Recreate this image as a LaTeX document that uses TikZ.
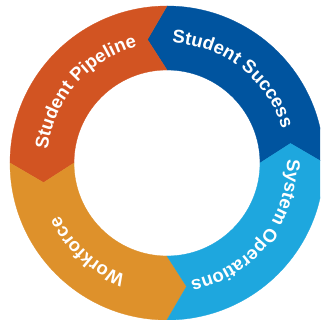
\documentclass[tikz,border=0pt]{standalone}
\usepackage{fontspec}
\setmainfont{Liberation Sans}
\usetikzlibrary{decorations.text}
\definecolor{pipe}{RGB}{210,84,34}
\definecolor{succ}{RGB}{0,84,159}
\definecolor{oper}{RGB}{30,167,222}
\definecolor{work}{RGB}{222,145,43}
\newcommand{\txtfont}{\bfseries\fontsize{18.5}{20}\selectfont\color{white}}
\newcommand{\ringseg}[2]{%
  \fill[#2, draw=#2, line width=0.3pt]
    ({#1}:157) arc[start angle={#1}, end angle={#1+90}, radius=157]
    -- ({#1+90+9}:125) -- ({#1+90}:93)
    arc[start angle={#1+90}, end angle={#1}, radius=93]
    -- ({#1+9}:125) -- cycle;}
\newcommand{\ringtext}[2]{%
  \path[decorate, decoration={text along path, text align=center,
      text={|\txtfont|#2}}]
    ({#1+70}:120) arc[start angle={#1+70}, end angle={#1-70}, radius=120];}
\begin{document}
\begin{tikzpicture}[x=1pt,y=1pt]
\useasboundingbox (0,-320) rectangle (320,0);
\clip (0,-320) rectangle (320,0);
\fill[white] (0,-320) rectangle (320,0);
\begin{scope}[shift={(167,-163)}]
  \ringseg{0}{succ}
  \ringseg{90}{pipe}
  \ringseg{180}{work}
  \ringseg{270}{oper}
  \ringtext{139}{Student Pipeline}
  \ringtext{52}{Student Success}
  \ringtext{228}{Workforce}
  \ringtext{-38.5}{System Operations}
\end{scope}
\end{tikzpicture}
\end{document}
